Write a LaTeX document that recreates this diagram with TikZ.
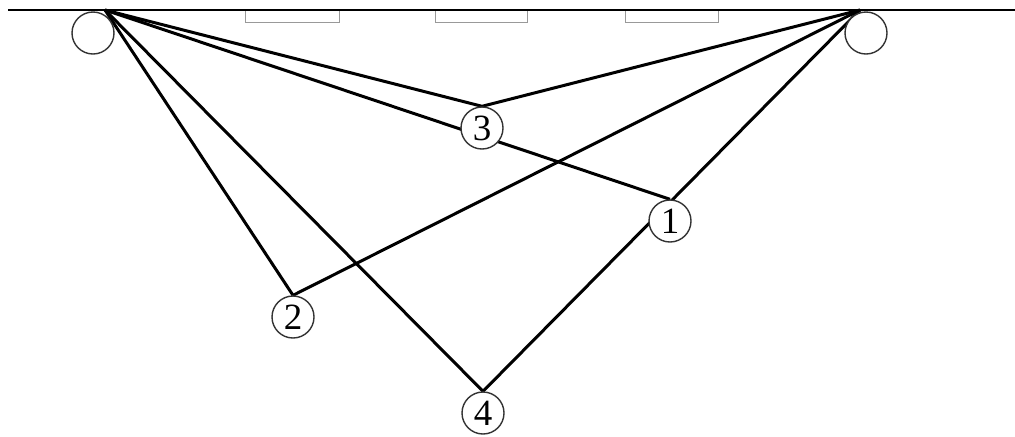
\documentclass[tikz,border=0pt]{standalone}
\usepackage{fontspec}
\setmainfont{Liberation Serif}
\usetikzlibrary{backgrounds}
\tikzset{
  ball/.style={circle, draw=black!80, line width=0.7pt, fill=white, minimum size=21pt, inner sep=0pt, font=\fontsize{18.5}{18.5}\selectfont},
  bigball/.style={circle, draw=black!80, line width=0.7pt, fill=white, minimum size=21pt, inner sep=0pt},
  bar/.style={line width=1.4pt, black},
  rod/.style={line width=1.5pt, black},
  slot/.style={draw=black!40, line width=0.4pt}
}
\begin{document}
\begin{tikzpicture}[x=0.5pt,y=-0.5pt]
\useasboundingbox (0,0) rectangle (1015,436);
% top elements
\node[bigball] (L) at (93,33) {};
\node[bigball] (R) at (866,33) {};
\coordinate (A) at (105,10);
\coordinate (B) at (860,10);
\coordinate (e0) at (8,10);
\coordinate (e1) at (1015,10);
\node[slot, minimum width=47pt, minimum height=6pt, inner sep=0pt] (s1) at (292,16) {};
\node[slot, minimum width=46pt, minimum height=6pt, inner sep=0pt] (s2) at (481,16) {};
\node[slot, minimum width=46.5pt, minimum height=6pt, inner sep=0pt] (s3) at (671.5,16) {};
\draw[bar] (e0) -- (e1);
% numbered balls
\node[ball] (n3) at (482,128) {3};
\node[ball] (n1) at (670,221) {1};
\node[ball] (n2) at (293,317) {2};
\node[ball] (n4) at (483,413) {4};
\begin{pgfonlayer}{background}
\fill[white] (0,0) rectangle (1015,436);
\draw[rod] (A) -- (n3.north);
\draw[rod] (A) -- (n1.north);
\draw[rod] (A) -- (n2.north);
\draw[rod] (A) -- (n4.north);
\draw[rod] (B) -- (n3.north);
\draw[rod] (B) -- (n2.north);
\draw[rod] (B) -- (n4.north);
\end{pgfonlayer}
\end{tikzpicture}
\end{document}
